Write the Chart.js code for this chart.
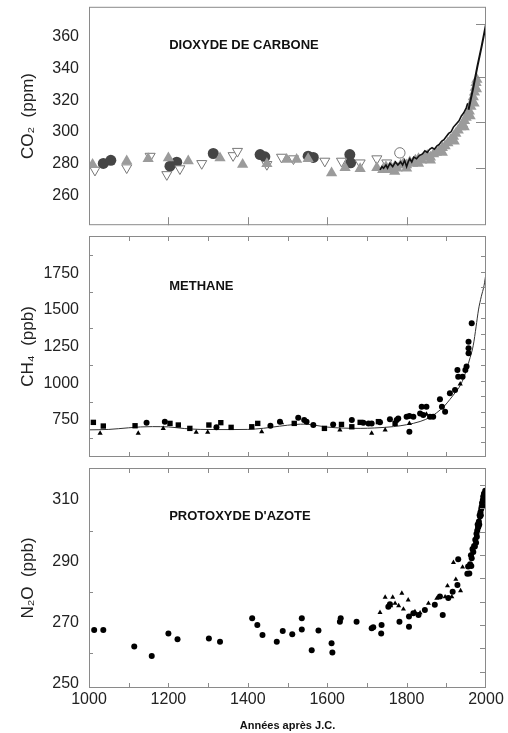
<!DOCTYPE html>
<html>
<head>
<meta charset="utf-8">
<script src="https://cdn.jsdelivr.net/npm/chart.js@4.4.1/dist/chart.umd.min.js"></script>
<style>
  body { margin: 0; background: #fff; width: 508px; height: 733px; overflow: hidden; position: relative; }
  canvas { position: absolute; left: 0; }
</style>
</head>
<body>
<canvas id="co2" width="508" height="232" style="top:0px"></canvas>
<canvas id="ch4" width="508" height="230" style="top:232px"></canvas>
<canvas id="n2o" width="508" height="271" style="top:462px"></canvas>
<script>
// ---- data (year, value) ----
var yearTicks = [1000, 1200, 1400, 1600, 1800, 2000];
var centuries = [1100, 1200, 1300, 1400, 1500, 1600, 1700, 1800, 1900];

// CO2 (ppm)
var co2Ticks = [260, 280, 300, 320, 340, 360];
var co2RightTicks = [277.3, 306.4, 334.5, 368.3];
var co2GrayTriangles = [
  [1009, 279.4], [1095, 281.5], [1149, 283], [1200, 283.5], [1250, 281.5], [1330, 283.5],
  [1387, 279.4], [1448, 279.8], [1498, 282.5], [1523, 282.5], [1552, 283], [1611, 274],
  [1645, 277.3], [1683, 276.7], [1725, 277.3], [1758, 277.3],
  [1740, 276], [1748, 278], [1755, 276], [1762, 277], [1770, 278], [1776, 277], [1785, 279],
  [1792, 280], [1800, 279], [1808, 281], [1815, 280], [1822, 282], [1830, 283], [1838, 282],
  [1845, 284], [1852, 285], [1860, 284], [1868, 286], [1875, 287], [1882, 288], [1890, 290],
  [1897, 291], [1904, 293], [1911, 295], [1918, 297], [1924, 299], [1930, 301], [1936, 303],
  [1941, 305], [1946, 307], [1950, 309], [1954, 311], [1958, 313], [1962, 316], [1965, 319],
  [1968, 322], [1971, 325], [1973, 328], [1975, 331], [1977, 333],
  [1770, 275], [1800, 277], [1830, 280], [1860, 282], [1890, 287], [1920, 294], [1945, 303],
  [1960, 310], [1970, 318], [1976, 327]
];
var co2DarkCircles = [
  [1036, 280], [1055, 282], [1204, 278.3], [1221, 280.8], [1313, 286.3], [1431, 285.6],
  [1443, 284.2], [1552, 284.6], [1565, 283.8], [1657, 285.6], [1659, 280.4]
];
var co2OpenTriangles = [
  [1015, 275.8], [1095, 277.3], [1154, 284.6], [1196, 273], [1229, 276.7], [1284, 280],
  [1363, 285], [1374, 287.7], [1448, 279.4], [1485, 284], [1515, 283], [1594, 281.5],
  [1636, 281.5], [1683, 280.4], [1725, 283], [1750, 280.4]
];
var co2OpenCircles = [[1783, 286.7]];
var co2IceCore = [
  [1733, 276], [1738, 278], [1742, 277], [1748, 279], [1752, 277], [1758, 280], [1765, 278],
  [1772, 281], [1778, 279], [1785, 281], [1790, 279], [1795, 282], [1800, 278], [1804, 281],
  [1808, 283], [1813, 281], [1818, 284], [1825, 283], [1832, 285], [1840, 286], [1846, 288],
  [1852, 287], [1858, 289], [1864, 290], [1870, 289], [1876, 291], [1882, 292], [1888, 294],
  [1894, 295], [1900, 297], [1906, 299], [1912, 300], [1918, 303], [1925, 305], [1932, 307],
  [1938, 310], [1944, 312], [1950, 315], [1954, 318]
];
var co2Atmos = [[1956, 314], [1968, 328], [1978, 341], [1989, 354], [2000, 368]];

// CH4 (ppb)
var ch4Ticks = [750, 1000, 1250, 1500, 1750];
var ch4LeftMinor = [625, 875, 1125, 1375, 1625, 1875];
var ch4RightTicks = [1870, 1761, 1654, 1550, 1443, 1336, 1232, 1125, 1018, 914, 807, 705, 598];
var ch4Squares = [
  [1011, 734], [1036, 709], [1116, 711], [1204, 727], [1225, 716], [1254, 693], [1302, 716],
  [1332, 732], [1358, 700], [1410, 704], [1425, 727], [1517, 727], [1593, 693], [1636, 720],
  [1662, 704], [1683, 734], [1729, 739], [1771, 727]
];
var ch4Triangles = [
  [1028, 659], [1124, 659], [1187, 693], [1270, 666], [1299, 666], [1435, 670], [1485, 732],
  [1632, 682], [1712, 659], [1746, 682], [1807, 727], [1850, 790], [1860, 770], [1935, 995]
];
var ch4Circles = [
  [1145, 732], [1191, 739], [1321, 700], [1457, 711], [1481, 739], [1527, 766], [1542, 750],
  [1548, 739], [1565, 716], [1615, 720], [1662, 750], [1691, 732], [1704, 727], [1712, 727],
  [1733, 734], [1758, 755], [1775, 750], [1779, 761], [1800, 773], [1807, 777], [1807, 670],
  [1817, 773], [1834, 795], [1838, 841], [1842, 784], [1850, 841], [1859, 773], [1867, 773],
  [1884, 891], [1889, 841], [1897, 807], [1909, 932], [1922, 955], [1928, 1091], [1930, 1045],
  [1941, 1045], [1948, 1091], [1951, 1114], [1956, 1205], [1956, 1239], [1956, 1284], [1964, 1409]
];
var ch4Fit = [
  [1000, 683], [1050, 686], [1100, 697], [1130, 703], [1160, 705], [1200, 703], [1240, 692],
  [1280, 686], [1320, 685], [1360, 685], [1400, 686], [1440, 694], [1480, 708], [1520, 720],
  [1545, 722], [1570, 714], [1600, 702], [1640, 695], [1683, 693], [1720, 696], [1767, 705],
  [1800, 718], [1834, 740], [1860, 770], [1876, 800], [1895, 845], [1909, 890], [1922, 935],
  [1935, 985], [1945, 1045], [1951, 1095], [1960, 1175], [1968, 1260], [1975, 1385],
  [1981, 1500], [1988, 1590], [1995, 1665], [1998, 1715], [2000, 1750]
];

// N2O (ppb)
var n2oTicks = [250, 270, 290, 310];
var n2oLeftMinor = [260, 280, 300];
var n2oRightTicks = [314.9, 307.3, 299.7, 292.1, 284.5, 276.8, 269.2, 261.6, 254.0];
var n2oCircles = [
  [1013, 267.6], [1036, 267.6], [1114, 262.2], [1158, 259.1], [1200, 266.5], [1223, 264.6],
  [1302, 264.8], [1330, 263.8], [1411, 271.4], [1424, 269.2], [1437, 266], [1473, 263.8],
  [1488, 267.3], [1512, 266.2], [1536, 271.4], [1536, 267.8], [1561, 261], [1578, 267.4],
  [1611, 263.3], [1613, 260.3], [1634, 271.4], [1632, 270.3], [1674, 270.3], [1712, 268.2],
  [1716, 268.5], [1736, 266.5], [1737, 269.2], [1754, 275.2], [1758, 276], [1782, 270.3],
  [1806, 272], [1806, 268.7], [1817, 273.1], [1830, 272.5], [1846, 274.1], [1871, 275.8],
  [1884, 278.5], [1891, 272.5], [1905, 278], [1916, 280.1], [1928, 282.3], [1930, 290.7],
  [1953, 285.9], [1955, 288.3], [1958, 286], [1960, 289], [1962, 292], [1963, 288.5],
  [1964, 291], [1966, 294], [1968, 293], [1970, 295], [1972, 294.8], [1973, 297], [1975, 296],
  [1976, 299], [1977, 298], [1978, 300], [1979, 302], [1980, 301], [1981, 301.3], [1982, 303],
  [1983, 302], [1984, 305], [1985, 304.6], [1986, 306], [1987, 305], [1988, 307],
  [1989, 307.8], [1990, 309], [1991, 308], [1992, 310], [1993, 311.1], [1994, 310],
  [1995, 312], [1996, 312.2], [1997, 311], [1998, 313]
];
var n2oTriangles = [
  [1733, 273.3], [1746, 278.3], [1760, 275.5], [1765, 278.3], [1771, 276.3], [1780, 275.5],
  [1788, 279.6], [1792, 274.4], [1804, 277.4], [1821, 273.6], [1834, 273.2], [1855, 276.3],
  [1876, 277.9], [1897, 278.4], [1903, 282], [1914, 278.4], [1918, 289.6], [1924, 284.1],
  [1936, 280.4], [1941, 288.1], [1966, 293.7]
];

function pts(arr) {
  return arr.map(function (p) { return { x: p[0], y: p[1] }; });
}

var FONT = "'Liberation Sans', Arial, Helvetica, sans-serif";
Chart.defaults.font.family = FONT;
Chart.defaults.color = "#222";

// frame, inward tick marks and panel name
var framePlugin = {
  id: "frame",
  afterDatasetsDraw: function (chart, args, opts) {
    var a = chart.chartArea, ctx = chart.ctx;
    var xs = chart.scales.x, ys = chart.scales.y;
    ctx.save();
    ctx.strokeStyle = "#8a8a8a";
    ctx.lineWidth = 1;
    ctx.strokeRect(a.left + 0.5, a.top + 0.5, a.right - a.left - 1, a.bottom - a.top - 1);
    ctx.beginPath();
    (opts.top || []).forEach(function (v) {
      var px = Math.round(xs.getPixelForValue(v)) + 0.5;
      ctx.moveTo(px, a.top); ctx.lineTo(px, a.top + opts.topLen);
    });
    (opts.bottom || []).forEach(function (v) {
      var px = Math.round(xs.getPixelForValue(v)) + 0.5;
      ctx.moveTo(px, a.bottom); ctx.lineTo(px, a.bottom - opts.bottomLen);
    });
    (opts.left || []).forEach(function (v) {
      var py = Math.round(ys.getPixelForValue(v)) + 0.5;
      ctx.moveTo(a.left, py); ctx.lineTo(a.left + opts.leftLen, py);
    });
    (opts.right || []).forEach(function (v) {
      var py = Math.round(ys.getPixelForValue(v)) + 0.5;
      ctx.moveTo(a.right, py); ctx.lineTo(a.right - opts.rightLen, py);
    });
    ctx.stroke();
    ctx.fillStyle = "#111";
    ctx.font = "bold 13px " + FONT;
    ctx.textBaseline = "alphabetic";
    ctx.fillText(opts.label, xs.getPixelForValue(1202), a.top + opts.labelY);
    ctx.restore();
  }
};

function plain(v) { return String(v); }

function yAxis(min, max, ticks, title) {
  return {
    min: min,
    max: max,
    afterBuildTicks: function (s) { s.ticks = ticks.map(function (v) { return { value: v }; }); },
    afterFit: function (s) { s.width = 89; s.paddingTop = 0; s.paddingBottom = 0; },
    grid: { display: false, drawTicks: false },
    border: { display: false },
    ticks: { padding: 10, color: "#222", font: { size: 16 }, callback: plain },
    title: { display: true, text: title, color: "#222", font: { size: 17 }, padding: { top: 18, bottom: 0 } }
  };
}

function hiddenX() {
  return { type: "linear", min: 1000, max: 2000, display: false };
}

function baseOptions(pad, scales, frame) {
  return {
    responsive: false,
    animation: false,
    layout: { padding: pad },
    scales: scales,
    plugins: { legend: { display: false }, tooltip: { enabled: false }, frame: frame }
  };
}

new Chart(document.getElementById("co2"), {
  type: "scatter",
  data: {
    datasets: [
      { data: pts(co2Atmos), showLine: true, borderColor: "#111", borderWidth: 2, pointRadius: 0 },
      { data: pts(co2IceCore), showLine: true, borderColor: "#111", borderWidth: 1.6, pointRadius: 0 },
      { data: pts(co2GrayTriangles), pointStyle: "triangle", pointRadius: 6.5, backgroundColor: "#9b9b9b", borderColor: "#9b9b9b", borderWidth: 0 },
      { data: pts(co2OpenCircles), pointStyle: "circle", pointRadius: 5.2, backgroundColor: "#fff", borderColor: "#777", borderWidth: 1 },
      { data: pts(co2OpenTriangles), pointStyle: "triangle", rotation: 180, pointRadius: 5.8, backgroundColor: "#fff", borderColor: "#777", borderWidth: 1 },
      { data: pts(co2DarkCircles), pointStyle: "circle", pointRadius: 5.5, backgroundColor: "#454545", borderColor: "#454545", borderWidth: 0 }
    ]
  },
  options: baseOptions({ top: 5, right: 22, bottom: 6, left: 0 },
    { x: hiddenX(), y: yAxis(241, 379, co2Ticks, "CO\u2082  (ppm)") },
    { bottom: [1200, 1400, 1600, 1800], bottomLen: 8, right: co2RightTicks, rightLen: 10, label: "DIOXYDE DE CARBONE", labelY: 42 }),
  plugins: [framePlugin]
});

new Chart(document.getElementById("ch4"), {
  type: "scatter",
  data: {
    datasets: [
      { data: pts(ch4Circles), pointStyle: "circle", pointRadius: 3, backgroundColor: "#000", borderWidth: 0 },
      { data: pts(ch4Squares), pointStyle: "rect", pointRadius: 3.8, backgroundColor: "#000", borderWidth: 0 },
      { data: pts(ch4Triangles), pointStyle: "triangle", pointRadius: 3, backgroundColor: "#000", borderWidth: 0 },
      { data: pts(ch4Fit), showLine: true, borderColor: "#333", borderWidth: 1, pointRadius: 0, cubicInterpolationMode: "monotone" }
    ]
  },
  options: baseOptions({ top: 4, right: 22, bottom: 5, left: 0 },
    { x: hiddenX(), y: yAxis(498, 2004, ch4Ticks, "CH\u2084  (ppb)") },
    { top: centuries, topLen: 5, bottom: centuries, bottomLen: 5, left: ch4LeftMinor, leftLen: 4, right: ch4RightTicks, rightLen: 5, label: "METHANE", labelY: 54 }),
  plugins: [framePlugin]
});

new Chart(document.getElementById("n2o"), {
  type: "scatter",
  data: {
    datasets: [
      { data: pts(n2oCircles), pointStyle: "circle", pointRadius: 3, backgroundColor: "#000", borderWidth: 0 },
      { data: pts(n2oTriangles), pointStyle: "triangle", pointRadius: 2.9, backgroundColor: "#000", borderWidth: 0 }
    ]
  },
  options: baseOptions({ top: 6, right: 22, bottom: 0, left: 0 }, {
    x: {
      type: "linear",
      min: 1000,
      max: 2000,
      afterBuildTicks: function (s) { s.ticks = yearTicks.map(function (v) { return { value: v }; }); },
      afterFit: function (s) { s.height = 45; s.paddingLeft = 0; s.paddingRight = 0; },
      grid: { display: false, drawTicks: false },
      border: { display: false },
      ticks: { padding: 2, color: "#222", font: { size: 16 }, maxRotation: 0, autoSkip: false, callback: plain },
      title: { display: true, text: "Années après J.C.", color: "#111", font: { size: 11, weight: "bold" }, padding: { top: 0, bottom: 0 } }
    },
    y: yAxis(248.7, 320.4, n2oTicks, "N\u2082O  (ppb)")
  }, { top: centuries, topLen: 5, bottom: centuries, bottomLen: 5, left: n2oLeftMinor, leftLen: 4, right: n2oRightTicks, rightLen: 6, label: "PROTOXYDE D'AZOTE", labelY: 52 }),
  plugins: [framePlugin]
});
</script>
</body>
</html>
